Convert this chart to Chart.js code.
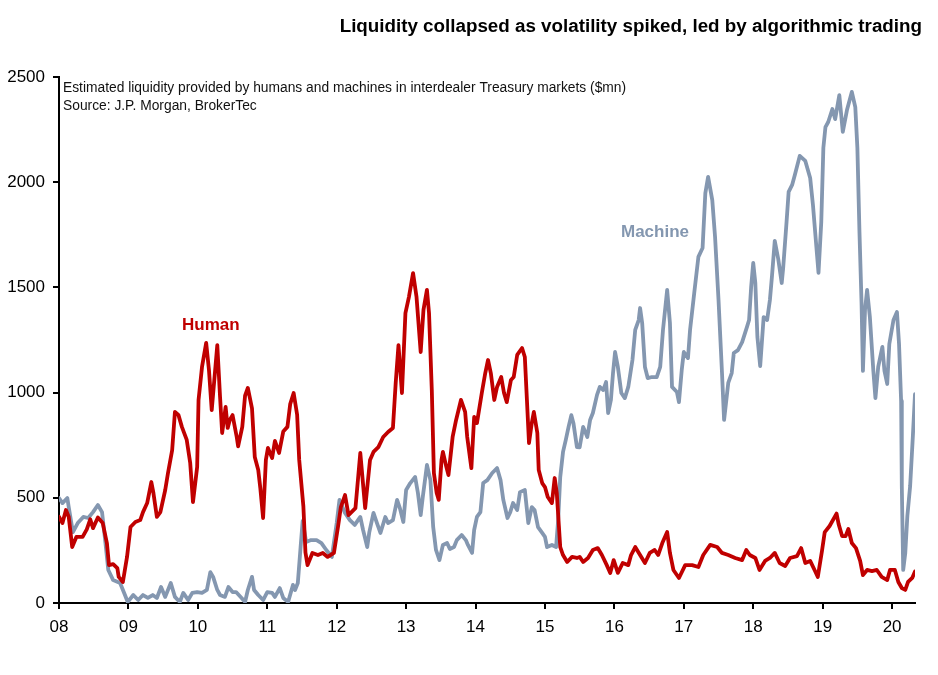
<!DOCTYPE html>
<html>
<head>
<meta charset="utf-8">
<script src="https://cdn.jsdelivr.net/npm/chart.js@4.4.1/dist/chart.umd.min.js"></script>
<style>
  body { margin: 0; background: #fff; }
  #wrap { width: 938px; height: 675px; }
</style>
</head>
<body>
<div id="wrap"><canvas id="chart" width="938" height="675"></canvas></div>
<script>
// x axis: years since 2000, ticks shown as two digits
const tickYears = [8, 9, 10, 11, 12, 13, 14, 15, 16, 17, 18, 19, 20];
const tickLabels = ["08", "09", "10", "11", "12", "13", "14", "15", "16", "17", "18", "19", "20"];

// Human liquidity ($mn)
const humanYear = [
  8.00, 8.05, 8.10, 8.14, 8.19, 8.25, 8.34, 8.40, 8.45, 8.49, 8.56, 8.63, 8.69, 8.72, 8.78, 8.84, 8.86, 8.92, 8.98,
  9.03, 9.10, 9.17, 9.21, 9.27, 9.33, 9.36, 9.41, 9.46, 9.53, 9.57, 9.63, 9.67, 9.72, 9.77, 9.84, 9.89, 9.93, 9.99,
  10.01, 10.06, 10.12, 10.16, 10.20, 10.28, 10.32, 10.35, 10.40, 10.43, 10.46, 10.50, 10.56, 10.58, 10.64, 10.68,
  10.72, 10.78, 10.82, 10.87, 10.90, 10.94, 10.98, 11.01, 11.07, 11.11, 11.17, 11.23, 11.29, 11.33, 11.38, 11.43,
  11.46, 11.52, 11.55, 11.58, 11.65, 11.73, 11.80, 11.87, 11.96, 12.02, 12.06, 12.12, 12.17, 12.27, 12.34, 12.41,
  12.48, 12.53, 12.60, 12.67, 12.74, 12.81, 12.85, 12.89, 12.94, 12.99, 13.04, 13.10, 13.15, 13.21, 13.25, 13.30,
  13.33, 13.37, 13.40, 13.44, 13.47, 13.51, 13.53, 13.58, 13.61, 13.67, 13.72, 13.79, 13.85, 13.88, 13.94, 13.98,
  14.02, 14.09, 14.14, 14.18, 14.22, 14.27, 14.31, 14.37, 14.41, 14.45, 14.51, 14.55, 14.60, 14.67, 14.71, 14.74,
  14.77, 14.81, 14.84, 14.89, 14.91, 14.96, 15.00, 15.04, 15.10, 15.14, 15.17, 15.22, 15.26, 15.32, 15.39, 15.46,
  15.50, 15.55, 15.62, 15.69, 15.76, 15.82, 15.89, 15.94, 15.99, 16.05, 16.12, 16.20, 16.24, 16.30, 16.37, 16.44,
  16.51, 16.58, 16.63, 16.69, 16.76, 16.80, 16.85, 16.93, 17.02, 17.12, 17.21, 17.28, 17.38, 17.48, 17.55, 17.64,
  17.74, 17.84, 17.90, 17.95, 18.03, 18.09, 18.17, 18.24, 18.31, 18.38, 18.46, 18.53, 18.63, 18.69, 18.75, 18.82,
  18.89, 18.93, 18.99, 19.03, 19.10, 19.20, 19.23, 19.28, 19.33, 19.37, 19.42, 19.48, 19.54, 19.58, 19.64, 19.71,
  19.78, 19.85, 19.93, 19.97, 20.04, 20.09, 20.14, 20.19, 20.23, 20.29, 20.33
];
const humanValue = [
  410, 380, 442, 410, 266, 314, 314, 350, 398, 356, 406, 380, 285, 180, 185, 166, 124, 100, 219,
  361, 385, 394, 432, 475, 575, 523, 409, 432, 537, 618, 727, 908, 894, 837, 775, 665, 480, 646,
  965, 1122, 1236, 1108, 917, 1226, 979, 808, 932, 832, 870, 893, 789, 745, 837, 985,
  1022, 925, 694, 632, 545, 404, 680, 737, 689, 770, 713, 815, 837, 945, 998, 895,
  680, 460, 240, 180, 238, 228, 238, 219, 238, 365, 456, 513, 418, 451, 713, 451,
  680, 718, 741, 789, 813, 832, 1046, 1226, 998, 1378, 1454, 1568, 1454, 1193, 1393, 1488,
  1378, 1012, 618, 523, 490, 680, 718, 646, 608, 789, 870, 965, 908, 789, 641, 884,
  855, 998, 1093, 1155, 1093, 965, 1027, 1074, 998, 955, 1060, 1074, 1179, 1212, 1169, 965,
  760, 855, 908, 808, 632, 570, 551, 504, 475, 594, 523, 266, 228, 195, 219, 214,
  219, 195, 214, 252, 261, 228, 180, 143, 204, 143, 190, 180, 228, 266, 228, 190,
  238, 252, 228, 285, 337, 238, 157, 119, 180, 180, 171, 228, 276, 266, 238, 228,
  214, 204, 252, 228, 214, 157, 200, 214, 238, 190, 176, 214, 223, 261, 190, 200,
  152, 124, 247, 337, 366, 425, 375, 318, 318, 352, 285, 261, 200, 133, 157, 152,
  157, 124, 109, 157, 157, 100, 71, 62, 100, 119, 150
];

// Machine liquidity ($mn)
const machineYear = [
  8.00, 8.05, 8.12, 8.14, 8.20, 8.27, 8.35, 8.42, 8.49, 8.56, 8.62, 8.66, 8.71, 8.78, 8.88, 8.95, 8.99,
  9.07, 9.14, 9.21, 9.28, 9.35, 9.41, 9.47, 9.53, 9.61, 9.67, 9.74, 9.79, 9.86, 9.92, 9.99,
  10.06, 10.13, 10.18, 10.22, 10.28, 10.32, 10.39, 10.44, 10.50, 10.55, 10.63, 10.68, 10.72, 10.78, 10.81,
  10.87, 10.94, 11.00, 11.07, 11.11, 11.18, 11.23, 11.30, 11.37, 11.40, 11.44, 11.48, 11.51, 11.56, 11.63,
  11.71, 11.78, 11.85, 11.93, 12.00, 12.04, 12.12, 12.19, 12.26, 12.34, 12.38, 12.44, 12.47, 12.53, 12.58,
  12.63, 12.70, 12.74, 12.81, 12.87, 12.91, 12.96, 13.00, 13.06, 13.13, 13.17, 13.21, 13.24, 13.30, 13.35,
  13.39, 13.43, 13.48, 13.53, 13.59, 13.63, 13.69, 13.73, 13.80, 13.86, 13.89, 13.95, 13.98, 14.02, 14.07,
  14.11, 14.17, 14.24, 14.31, 14.36, 14.40, 14.46, 14.50, 14.54, 14.60, 14.64, 14.71, 14.76, 14.81, 14.85,
  14.90, 14.96, 15.00, 15.03, 15.10, 15.16, 15.19, 15.22, 15.26, 15.30, 15.34, 15.38, 15.41, 15.46, 15.50,
  15.55, 15.61, 15.65, 15.69, 15.75, 15.79, 15.84, 15.88, 15.91, 15.95, 15.98, 16.01, 16.05, 16.10, 16.15,
  16.20, 16.26, 16.30, 16.35, 16.37, 16.40, 16.44, 16.48, 16.54, 16.61, 16.66, 16.70, 16.76, 16.80, 16.83,
  16.90, 16.93, 16.97, 17.00, 17.06, 17.09, 17.15, 17.21, 17.27, 17.31, 17.35, 17.41, 17.45, 17.50, 17.55,
  17.58, 17.64, 17.69, 17.72, 17.78, 17.84, 17.91, 17.94, 17.97, 18.00, 18.03, 18.06, 18.10, 18.15, 18.20,
  18.24, 18.27, 18.31, 18.36, 18.41, 18.43, 18.48, 18.51, 18.56, 18.60, 18.67, 18.75, 18.82, 18.86, 18.92,
  18.94, 18.98, 19.01, 19.04, 19.08, 19.14, 19.18, 19.24, 19.29, 19.35, 19.42, 19.47, 19.50, 19.53, 19.56,
  19.58, 19.61, 19.64, 19.68, 19.73, 19.76, 19.80, 19.86, 19.89, 19.93, 19.96, 20.02, 20.07, 20.10, 20.13,
  20.14, 20.16, 20.19, 20.22, 20.26, 20.30, 20.33
];
const machineValue = [
  499, 475, 499, 456, 337, 380, 409, 404, 432, 466, 432, 314, 157, 109, 95, 38, 5,
  38, 14, 38, 24, 38, 24, 76, 29, 95, 29, 5, 48, 14, 48, 52,
  48, 62, 147, 124, 62, 38, 29, 76, 52, 52, 24, 5, 62, 124, 62,
  38, 14, 52, 48, 29, 71, 24, 5, 86, 62, 95, 266, 390, 290, 299,
  299, 285, 252, 219, 380, 490, 428, 394, 371, 409, 347, 266, 337, 428, 380,
  333, 409, 380, 394, 490, 451, 385, 537, 570, 599, 523, 418, 504, 656, 584,
  361, 252, 204, 276, 285, 257, 266, 299, 323, 299, 276, 238, 347, 409, 432,
  570, 584, 618, 641, 584, 490, 404, 432, 475, 442, 527, 537, 380, 456, 442,
  361, 333, 314, 266, 276, 266, 394, 599, 718, 775, 837, 893, 855, 741, 740,
  837, 789, 870, 903, 989, 1027, 1012, 1050, 903, 965, 1093, 1193, 1122, 998, 974,
  1027, 1155, 1298, 1345, 1402, 1331, 1122, 1069, 1074, 1074, 1122, 1298, 1488, 1331, 1027,
  1003, 955, 1107, 1193, 1164, 1298, 1473, 1645, 1687, 1948, 2025, 1915, 1740, 1440, 1093,
  870, 1046, 1093, 1188, 1202, 1240, 1312, 1345, 1502, 1616, 1521, 1264, 1126, 1359, 1345,
  1440, 1554, 1721, 1635, 1521, 1588, 1811, 1954, 1987, 2035, 2125, 2101, 2020, 1892, 1650,
  1569, 1811, 2163, 2262, 2286, 2348, 2300, 2414, 2239, 2343, 2429, 2357, 2163, 1764, 1426,
  1103, 1393, 1488, 1359, 1103, 974, 1122, 1217, 1103, 1041, 1231, 1345, 1383, 1231, 960,
  556, 157, 238, 414, 556, 798, 993
];

const RED = "#c00000";
const BLUE = "#8497b0";
const FONT = "'Liberation Sans', Arial, sans-serif";

function toPoints(xs, ys) {
  return xs.map((x, i) => ({ x: x, y: ys[i] }));
}

const textPlugin = {
  id: "texts",
  afterDraw(chart) {
    const ctx = chart.ctx;
    ctx.save();
    ctx.textBaseline = "middle";

    ctx.fillStyle = "#000";
    ctx.font = "bold 18.8px " + FONT;
    ctx.textAlign = "right";
    ctx.fillText("Liquidity collapsed as volatility spiked, led by algorithmic trading", 922, 27);

    ctx.font = "13.8px " + FONT;
    ctx.textAlign = "left";
    ctx.fillStyle = "#111";
    ctx.fillText("Estimated liquidity provided by humans and machines in interdealer Treasury markets ($mn)", 63, 88);
    ctx.fillText("Source: J.P. Morgan, BrokerTec", 63, 106);

    ctx.font = "bold 17px " + FONT;
    ctx.fillStyle = RED;
    ctx.fillText("Human", 182, 325);
    ctx.fillStyle = BLUE;
    ctx.fillText("Machine", 621, 232);
    ctx.restore();
  }
};

new Chart(document.getElementById("chart"), {
  type: "line",
  data: {
    datasets: [
      {
        label: "Human",
        data: toPoints(humanYear, humanValue),
        borderColor: RED,
        borderWidth: 3.8,
        pointRadius: 0,
        tension: 0,
        borderJoinStyle: "round",
        borderCapStyle: "round"
      },
      {
        label: "Machine",
        data: toPoints(machineYear, machineValue),
        borderColor: BLUE,
        borderWidth: 3.8,
        pointRadius: 0,
        tension: 0,
        borderJoinStyle: "round",
        borderCapStyle: "round"
      }
    ]
  },
  options: {
    responsive: false,
    animation: false,
    devicePixelRatio: 1,
    layout: { padding: { top: 77, right: 23, left: 0, bottom: 0 } },
    plugins: {
      legend: { display: false },
      tooltip: { enabled: false }
    },
    scales: {
      x: {
        type: "linear",
        min: 8,
        max: 20.33,
        afterBuildTicks: s => { s.ticks = tickYears.map(v => ({ value: v })); },
        afterFit: s => { s.height = 72; },
        ticks: {
          autoSkip: false,
          maxRotation: 0,
          padding: 8,
          color: "#000",
          font: { family: FONT, size: 17 },
          callback: (v) => tickLabels[tickYears.indexOf(v)]
        },
        grid: { drawOnChartArea: false, drawTicks: true, tickLength: 6, color: "#000", lineWidth: 2 },
        border: { display: true, color: "#000", width: 2 }
      },
      y: {
        min: 0,
        max: 2500,
        afterFit: s => { s.width = 59; },
        ticks: {
          stepSize: 500,
          padding: 8,
          color: "#000",
          font: { family: FONT, size: 17 },
          callback: (v) => String(v)
        },
        grid: { drawOnChartArea: false, drawTicks: true, tickLength: 6, color: "#000", lineWidth: 2 },
        border: { display: true, color: "#000", width: 2 }
      }
    }
  },
  plugins: [textPlugin]
});
</script>
</body>
</html>
